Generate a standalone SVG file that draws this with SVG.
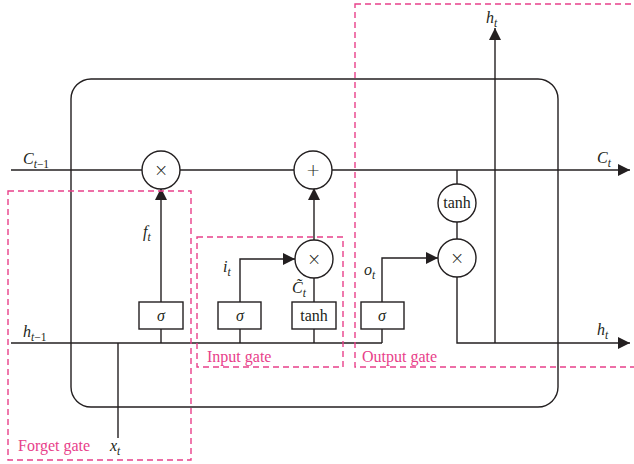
<svg xmlns="http://www.w3.org/2000/svg" width="634" height="464" viewBox="0 0 634 464">
<defs>
<style>
.ln{stroke:#231f20;stroke-width:1.4;fill:none}
.nd{stroke:#231f20;stroke-width:1.4;fill:#fff}
.gate{stroke:#e8408a;stroke-width:1.4;fill:none;stroke-dasharray:6,4}
.glab{font-family:"Liberation Serif",serif;font-size:16px;fill:#e8408a}
.math{font-family:"Liberation Serif",serif;font-style:italic;font-size:16px;fill:#231f20}
.sub{font-size:11.5px}
.op{font-family:"Liberation Serif",serif;font-size:16px;fill:#231f20;text-anchor:middle}
.sym{font-family:"DejaVu Sans",sans-serif;font-size:17px;font-weight:300;fill:#231f20;text-anchor:middle}
</style>
<marker id="ah" viewBox="0 0 12 12" refX="12" refY="6" markerWidth="12" markerHeight="12" markerUnits="userSpaceOnUse" orient="auto">
<path d="M0,0 L12,6 L0,12 Z" fill="#231f20"/>
</marker>
</defs>
<rect width="634" height="464" fill="#fff"/>

<g id="cell">
<rect x="71" y="79" width="487" height="328" rx="20" ry="20" class="ln"/>
</g>

<g id="connectors">
<line x1="11" y1="170" x2="142" y2="170" class="ln"/>
<line x1="180" y1="170" x2="294" y2="170" class="ln"/>
<line x1="332" y1="170" x2="630" y2="170" class="ln" marker-end="url(#ah)"/>
<line x1="11" y1="343" x2="382" y2="343" class="ln"/>
<polyline points="457,277 457,343 630,343" class="ln" marker-end="url(#ah)"/>
<line x1="118" y1="343" x2="118" y2="438" class="ln"/>
<line x1="161" y1="302" x2="161" y2="188" class="ln" marker-end="url(#ah)"/>
<line x1="161" y1="329" x2="161" y2="343" class="ln"/>
<polyline points="240,302 240,259 295,259" class="ln" marker-end="url(#ah)"/>
<line x1="240" y1="329" x2="240" y2="343" class="ln"/>
<line x1="314" y1="302" x2="314" y2="278" class="ln"/>
<line x1="314" y1="329" x2="314" y2="343" class="ln"/>
<line x1="314" y1="240" x2="314" y2="188" class="ln" marker-end="url(#ah)"/>
<polyline points="382,302 382,258 438,258" class="ln" marker-end="url(#ah)"/>
<line x1="382" y1="329" x2="382" y2="343" class="ln"/>
<line x1="457" y1="170" x2="457" y2="184" class="ln"/>
<line x1="457" y1="222" x2="457" y2="239" class="ln"/>
<line x1="495" y1="343" x2="495" y2="28" class="ln" marker-end="url(#ah)"/>
</g>

<g id="forget-mult"><circle cx="161" cy="170" r="19" class="nd"/><text x="161" y="176" class="sym">×</text></g>
<g id="add"><circle cx="313" cy="170" r="19" class="nd"/><text x="313" y="176" class="sym">+</text></g>
<g id="forget-sigma"><rect x="139" y="302" width="44" height="27" class="nd"/><text x="161" y="321" class="op" font-style="italic">σ</text></g>
<g id="input-sigma"><rect x="218" y="302" width="43" height="27" class="nd"/><text x="240" y="321" class="op" font-style="italic">σ</text></g>
<g id="input-tanh"><rect x="292" y="302" width="44" height="27" class="nd"/><text x="314" y="321" class="op">tanh</text></g>
<g id="input-mult"><circle cx="314" cy="259" r="19" class="nd"/><text x="314" y="265" class="sym">×</text></g>
<g id="output-sigma"><rect x="361" y="302" width="43" height="27" class="nd"/><text x="382" y="321" class="op" font-style="italic">σ</text></g>
<g id="output-tanh"><circle cx="457" cy="203" r="19" class="nd"/><text x="457" y="208" class="op">tanh</text></g>
<g id="output-mult"><circle cx="457" cy="258" r="19" class="nd"/><text x="457" y="264" class="sym">×</text></g>

<g id="labels">
<text x="23" y="164" class="math">C<tspan class="sub" dy="4">t</tspan><tspan class="sub" font-style="normal">−1</tspan></text>
<text x="23" y="337" class="math">h<tspan class="sub" dy="4">t</tspan><tspan class="sub" font-style="normal">−1</tspan></text>
<text x="143" y="237" class="math">f<tspan class="sub" dy="4">t</tspan></text>
<text x="223" y="272" class="math">i<tspan class="sub" dy="4">t</tspan></text>
<text x="292" y="293" class="math">C&#771;<tspan class="sub" dy="4">t</tspan></text>
<text x="364" y="275" class="math">o<tspan class="sub" dy="4">t</tspan></text>
<text x="110" y="451" class="math">x<tspan class="sub" dy="4">t</tspan></text>
<text x="486" y="23" class="math">h<tspan class="sub" dy="4">t</tspan></text>
<text x="597" y="163" class="math">C<tspan class="sub" dy="4">t</tspan></text>
<text x="597" y="335" class="math">h<tspan class="sub" dy="4">t</tspan></text>
</g>

<g id="forget-gate"><rect x="8" y="191" width="183" height="269" class="gate"/><text x="18" y="451" class="glab">Forget gate</text></g>
<g id="input-gate"><rect x="197" y="237" width="146" height="130" class="gate"/><text x="207" y="362" class="glab">Input gate</text></g>
<g id="output-gate"><rect x="355" y="4" width="284" height="363" class="gate"/><text x="362" y="362" class="glab">Output gate</text></g>
</svg>
